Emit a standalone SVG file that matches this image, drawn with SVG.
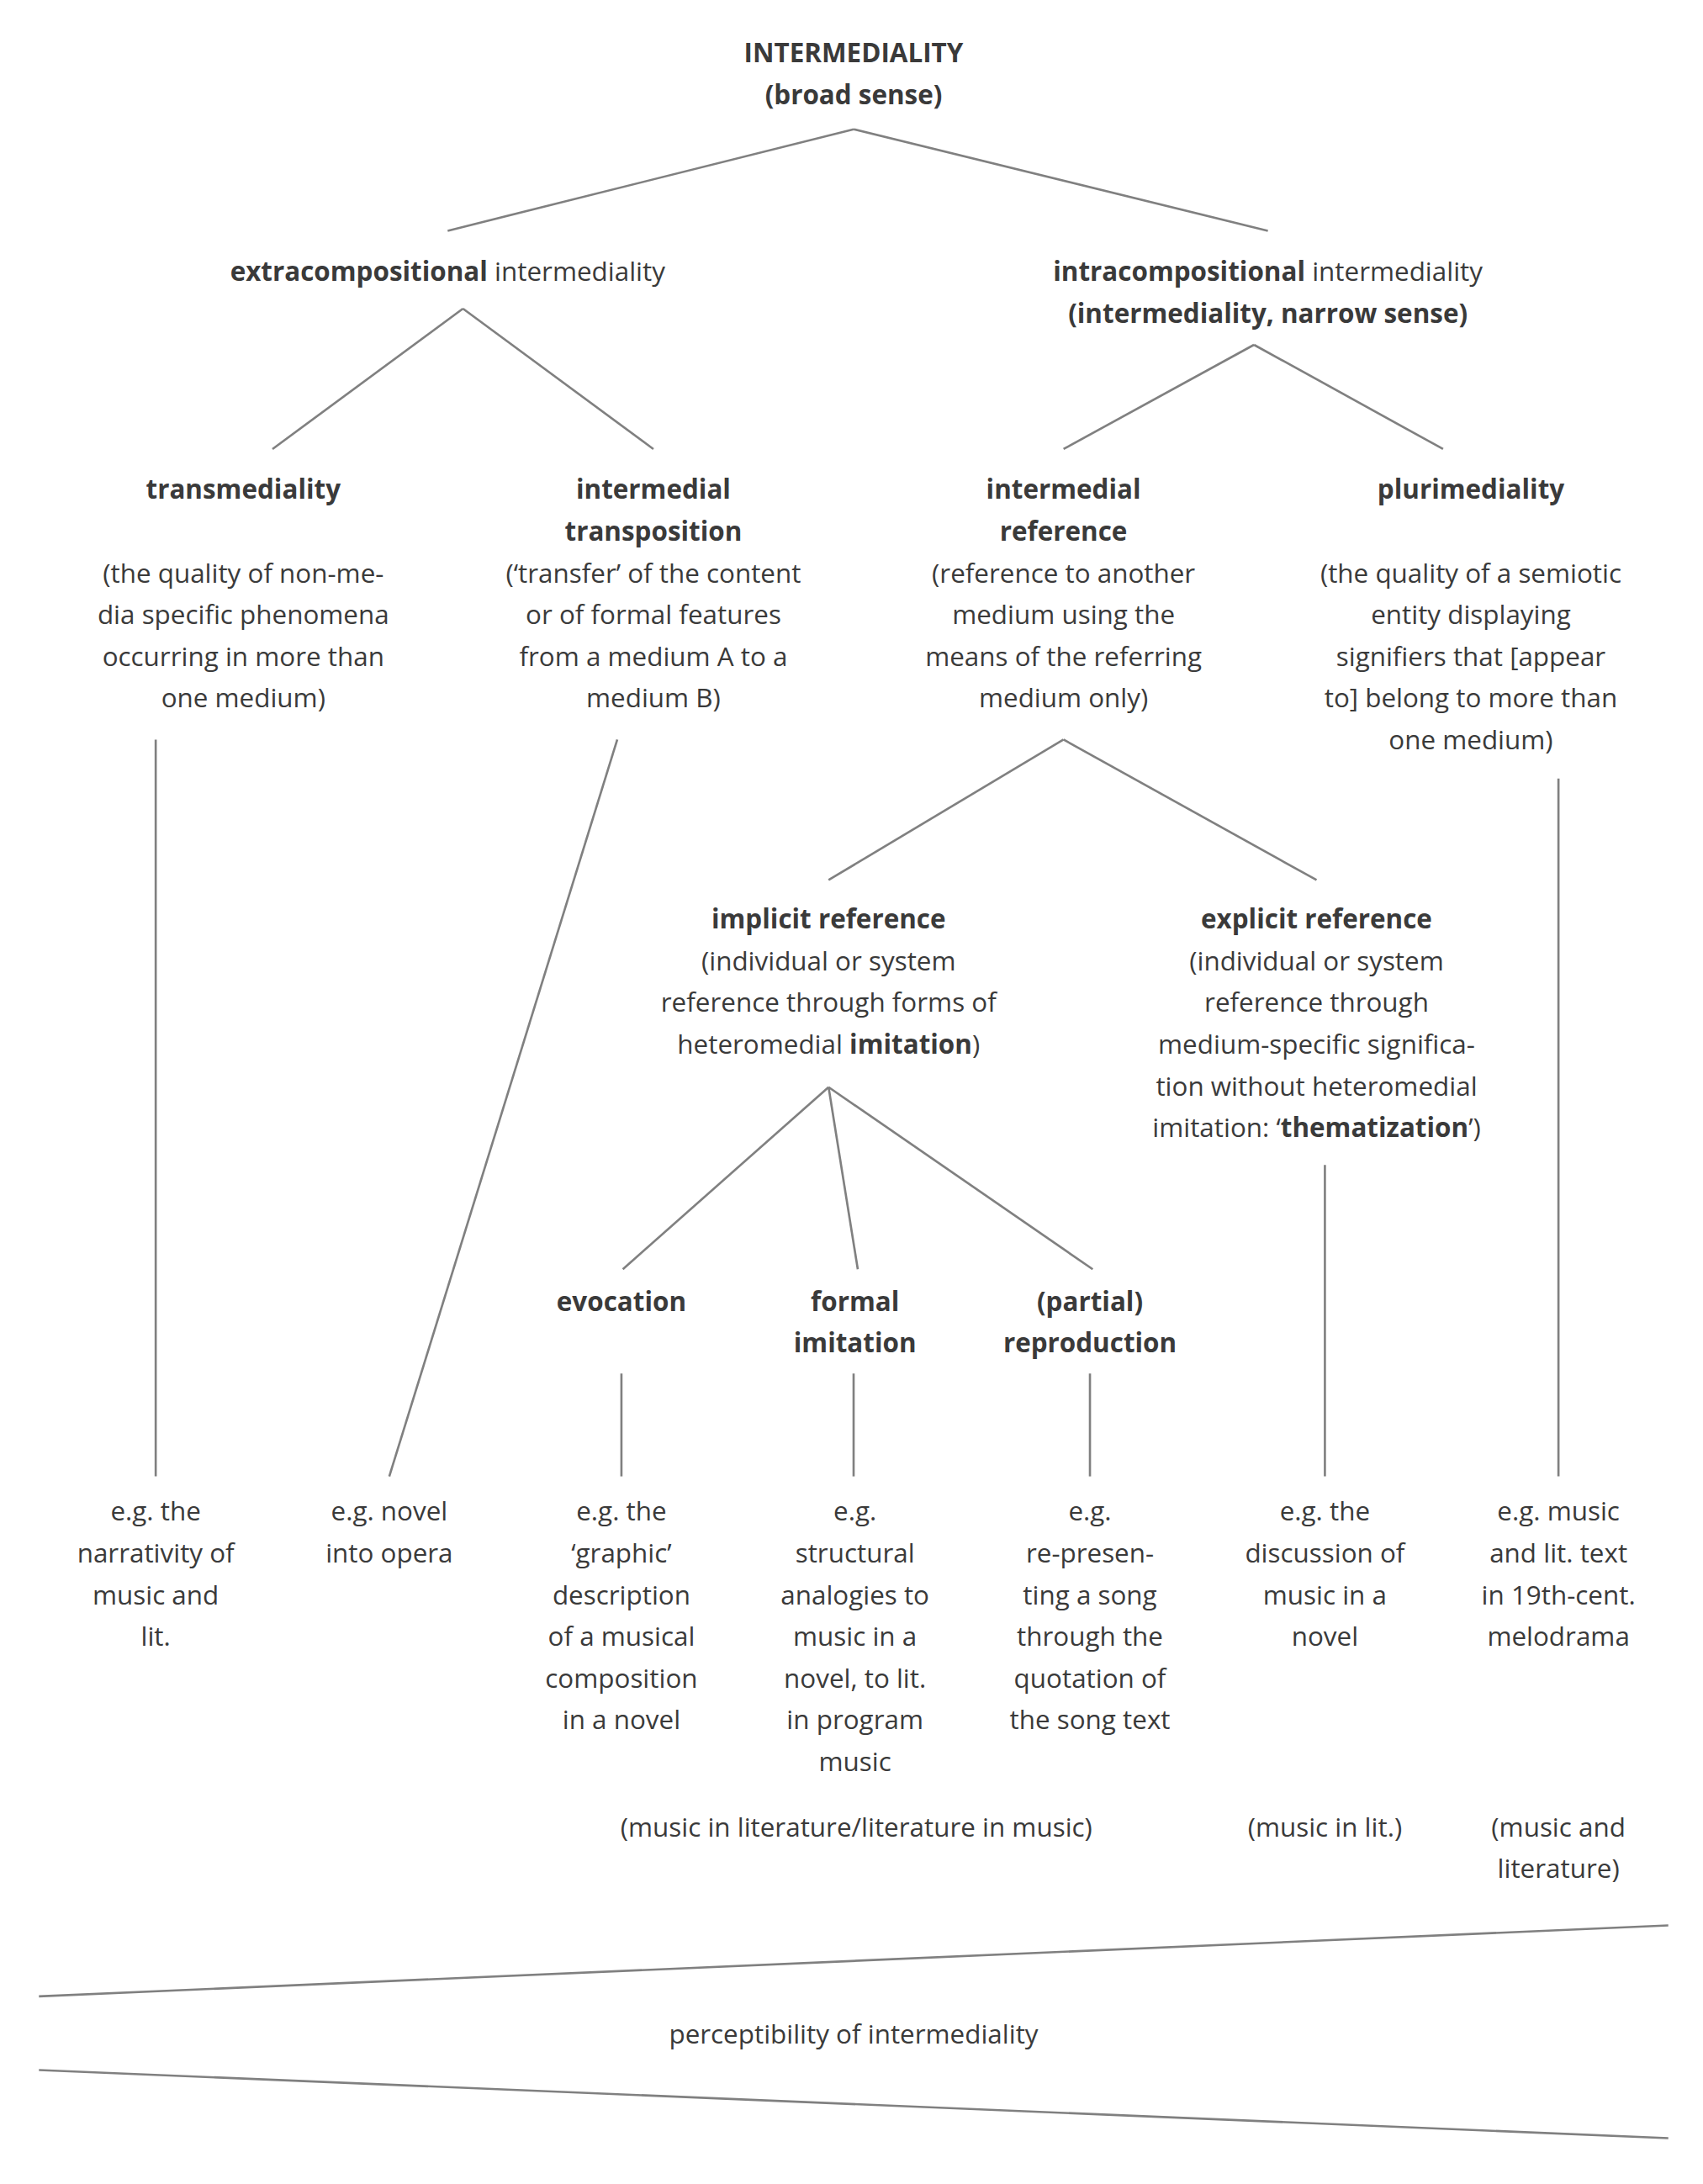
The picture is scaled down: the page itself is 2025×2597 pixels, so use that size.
<svg xmlns="http://www.w3.org/2000/svg" width="2025" height="2597" viewBox="0 0 2025 2597">
<style>
text{font-family:"Open Sans","Noto Sans",sans-serif;font-size:19px;fill:#3a3a3a;text-anchor:middle}
.b{font-weight:bold}
line{stroke:#808080;stroke-width:1.6}
</style>
<rect width="2025" height="2597" fill="#fff"/>
<g transform="scale(1.6531)">
<g id="connectors">
<line x1="614" y1="93" x2="322" y2="166"/><line x1="614" y1="93" x2="912" y2="166"/>
<line x1="333" y1="222" x2="196" y2="323"/><line x1="333" y1="222" x2="470" y2="323"/>
<line x1="902" y1="248" x2="765" y2="323"/><line x1="902" y1="248" x2="1038" y2="323"/>
<line x1="112" y1="532" x2="112" y2="1062"/><line x1="444" y1="532" x2="280" y2="1062"/>
<line x1="1121" y1="560" x2="1121" y2="1062"/>
<line x1="765" y1="532" x2="596" y2="633"/><line x1="765" y1="532" x2="947" y2="633"/>
<line x1="596" y1="782" x2="448" y2="913"/><line x1="596" y1="782" x2="617" y2="913"/><line x1="596" y1="782" x2="786" y2="913"/>
<line x1="447" y1="988" x2="447" y2="1062"/><line x1="614" y1="988" x2="614" y2="1062"/>
<line x1="784" y1="988" x2="784" y2="1062"/><line x1="953" y1="838" x2="953" y2="1062"/>
<line x1="28" y1="1436" x2="1200" y2="1385"/><line x1="28" y1="1489" x2="1200" y2="1538"/>
</g>
<g id="root"><text class="b" x="614" y="45">INTERMEDIALITY</text><text class="b" x="614" y="75">(broad sense)</text></g>
<g id="extra"><text x="322" y="202"><tspan class="b">extracompositional</tspan> intermediality</text></g>
<g id="intra"><text x="912" y="202"><tspan class="b">intracompositional</tspan> intermediality</text><text class="b" x="912" y="232">(intermediality, narrow sense)</text></g>
<g id="trans"><text class="b" x="175" y="359">transmediality</text>
<text x="175" y="419">(the quality of non-me-</text><text x="175" y="449">dia specific phenomena</text><text x="175" y="479">occurring in more than</text><text x="175" y="509">one medium)</text></g>
<g id="transpo"><text class="b" x="470" y="359">intermedial</text><text class="b" x="470" y="389">transposition</text>
<text x="470" y="419">(‘transfer’ of the content</text><text x="470" y="449">or of formal features</text><text x="470" y="479">from a medium A to a</text><text x="470" y="509">medium B)</text></g>
<g id="iref"><text class="b" x="765" y="359">intermedial</text><text class="b" x="765" y="389">reference</text>
<text x="765" y="419">(reference to another</text><text x="765" y="449">medium using the</text><text x="765" y="479">means of the referring</text><text x="765" y="509">medium only)</text></g>
<g id="pluri"><text class="b" x="1058" y="359">plurimediality</text>
<text x="1058" y="419">(the quality of a semiotic</text><text x="1058" y="449">entity displaying</text><text x="1058" y="479">signifiers that [appear</text><text x="1058" y="509">to] belong to more than</text><text x="1058" y="539">one medium)</text></g>
<g id="implicit"><text class="b" x="596" y="668">implicit reference</text>
<text x="596" y="698">(individual or system</text><text x="596" y="728">reference through forms of</text><text x="596" y="758">heteromedial <tspan class="b">imitation</tspan>)</text></g>
<g id="explicit"><text class="b" x="947" y="668">explicit reference</text>
<text x="947" y="698">(individual or system</text><text x="947" y="728">reference through</text><text x="947" y="758">medium-specific significa-</text><text x="947" y="788">tion without heteromedial</text><text x="947" y="818">imitation: ‘<tspan class="b">thematization</tspan>’)</text></g>
<g id="evocation"><text class="b" x="447" y="943">evocation</text></g>
<g id="formal"><text class="b" x="615" y="943">formal</text><text class="b" x="615" y="973">imitation</text></g>
<g id="partial"><text class="b" x="784" y="943">(partial)</text><text class="b" x="784" y="973">reproduction</text></g>
<g id="ex1"><text x="112" y="1094">e.g. the</text><text x="112" y="1124">narrativity of</text><text x="112" y="1154">music and</text><text x="112" y="1184">lit.</text></g>
<g id="ex2"><text x="280" y="1094">e.g. novel</text><text x="280" y="1124">into opera</text></g>
<g id="ex3"><text x="447" y="1094">e.g. the</text><text x="447" y="1124">‘graphic’</text><text x="447" y="1154">description</text><text x="447" y="1184">of a musical</text><text x="447" y="1214">composition</text><text x="447" y="1244">in a novel</text></g>
<g id="ex4"><text x="615" y="1094">e.g.</text><text x="615" y="1124">structural</text><text x="615" y="1154">analogies to</text><text x="615" y="1184">music in a</text><text x="615" y="1214">novel, to lit.</text><text x="615" y="1244">in program</text><text x="615" y="1274">music</text></g>
<g id="ex5"><text x="784" y="1094">e.g.</text><text x="784" y="1124">re-presen-</text><text x="784" y="1154">ting a song</text><text x="784" y="1184">through the</text><text x="784" y="1214">quotation of</text><text x="784" y="1244">the song text</text></g>
<g id="ex6"><text x="953" y="1094">e.g. the</text><text x="953" y="1124">discussion of</text><text x="953" y="1154">music in a</text><text x="953" y="1184">novel</text></g>
<g id="ex7"><text x="1121" y="1094">e.g. music</text><text x="1121" y="1124">and lit. text</text><text x="1121" y="1154">in 19th-cent.</text><text x="1121" y="1184">melodrama</text></g>
<g id="cat1"><text x="616" y="1321">(music in literature/literature in music)</text></g>
<g id="cat2"><text x="953" y="1321">(music in lit.)</text></g>
<g id="cat3"><text x="1121" y="1321">(music and</text><text x="1121" y="1351">literature)</text></g>
<g id="percept"><text x="614" y="1470">perceptibility of intermediality</text></g>
</g>
</svg>
